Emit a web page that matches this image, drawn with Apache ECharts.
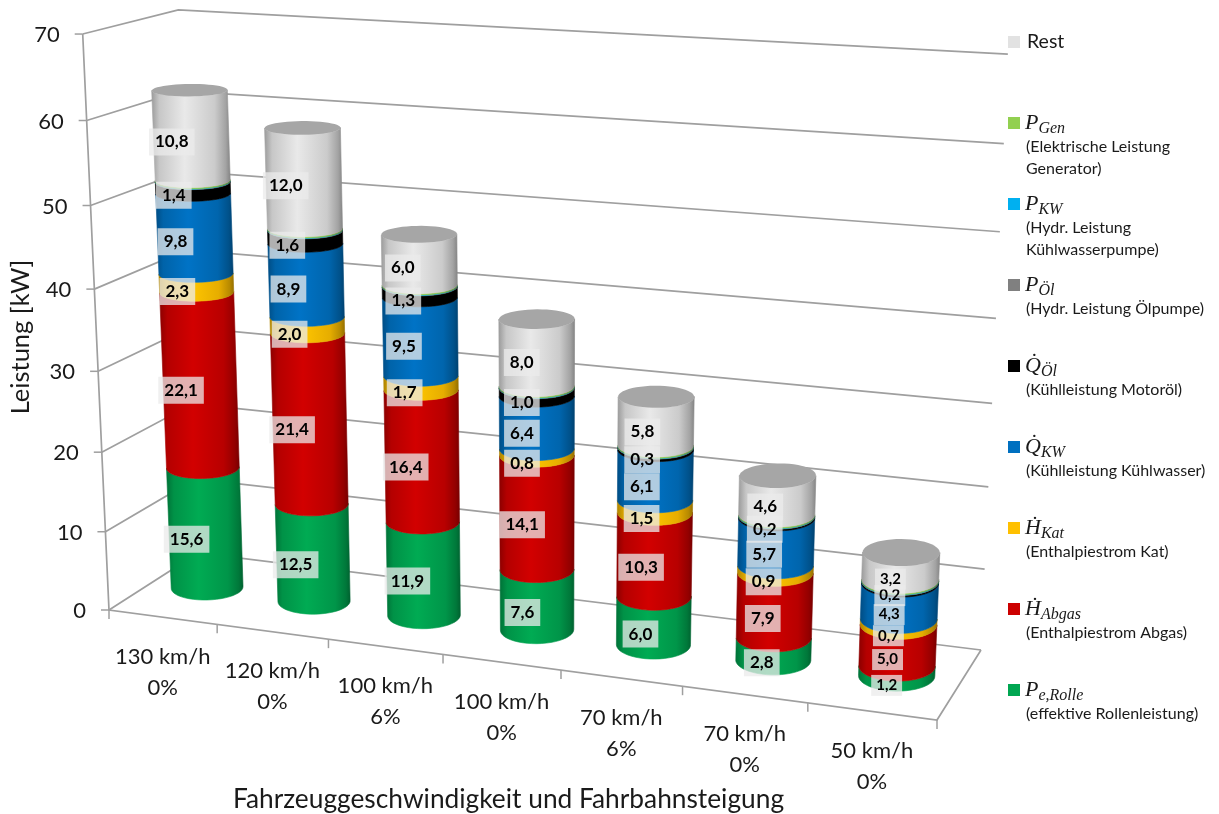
<!DOCTYPE html>
<html><head><meta charset="utf-8">
<style>html,body{margin:0;padding:0;background:#fff}#c{width:1219px;height:814px}</style>
<script src="https://cdn.jsdelivr.net/npm/echarts@6/dist/echarts.min.js"></script>
</head><body><div id="c"></div>
<script>
// ---- data ----
const categories = ['130 km/h\n0%','120 km/h\n0%','100 km/h\n6%','100 km/h\n0%','70 km/h\n6%','70 km/h\n0%','50 km/h\n0%'];
const yTicks = [0,10,20,30,40,50,60,70];
const pRolle  = [15.6,12.5,11.9,7.6,6.0,2.8,1.2];
const hAbgas  = [22.1,21.4,16.4,14.1,10.3,7.9,5.0];
const hKat    = [2.3,2.0,1.7,0.8,1.5,0.9,0.7];
const qKw     = [9.8,8.9,9.5,6.4,6.1,5.7,4.3];
const qOel    = [1.4,1.6,1.3,1.0,0.3,0.2,0.2];
const pOel    = [0.05,0.05,0.05,0.05,0.05,0.05,0.05];
const pKw     = [0.05,0.05,0.05,0.05,0.05,0.05,0.05];
const pGen    = [0.15,0.15,0.15,0.15,0.15,0.15,0.15];
const rest    = [10.8,12.0,6.0,8.0,5.8,4.6,3.2];
const legendOrder = ['Rest','PGen','PKW','PÖl','QÖl','QKW','HKat','HAbgas','PRolle'];

// ---- chart frame calibration: a perspective view of a floor and two walls ----
const FL=[109,610],FR=[937,720],BR=[981,650],BL=[198,553];
const TOPS=[{u:0,d:0,p:[84,37]},{u:0,d:1,p:[177,9]},{u:1,d:1,p:[1008,52]}];
const det=(a,b)=>a[0]*b[1]-a[1]*b[0];
const dx1=[FR[0]-BR[0],FR[1]-BR[1]],dx2=[BL[0]-BR[0],BL[1]-BR[1]];
const sv=[FL[0]-FR[0]+BR[0]-BL[0],FL[1]-FR[1]+BR[1]-BL[1]];
const D=det(dx1,dx2),pg=det(sv,dx2)/D,pj=det(dx1,sv)/D;
const pa=FR[0]-FL[0]+pg*FR[0],pb=BL[0]-FL[0]+pj*BL[0];
const pe=FR[1]-FL[1]+pg*FR[1],pf=BL[1]-FL[1]+pj*BL[1];
const pc=(()=>{
  let sX=0,sY=0,sQ=0,sRx=0,sRy=0,sM=0,n=TOPS.length;
  TOPS.forEach(t=>{
    const W=pg*t.u+pj*t.d+1,Xb=pa*t.u+pb*t.d+FL[0],Yb=pe*t.u+pf*t.d+FL[1];
    const X=t.p[0],Y=t.p[1],rx=X*W-Xb,ry=Y*W-Yb;
    sX+=X;sY+=Y;sQ+=X*X+Y*Y;sRx+=rx;sRy+=ry;sM+=X*rx+Y*ry;
  });
  const k=(-sM+sX*sRx/n+sY*sRy/n)/(sQ-sX*sX/n-sY*sY/n);
  return {c:(sRx+k*sX)/n,m:(sRy+k*sY)/n,k};
})();
function proj(u,d,h){
  const w=pg*u+pj*d+pc.k*h+1;
  return [(pa*u+pb*d+pc.c*h+FL[0])/w,(pe*u+pf*d+pc.m*h+FL[1])/w];
}
const D0=0.5,RU=0.042,RD=0.21,N=48,TILT=0.7;
function norm(params,pt){
  const s=params.coordSys;
  return [(pt[0]-s.x)/s.width,(s.y+s.height-pt[1])/s.height];
}
function ring(u,h){
  const a=[];
  for(let i=0;i<N;i++){const t=i/N*2*Math.PI;a.push(proj(u+RU*Math.cos(t),D0+RD*Math.sin(t),h));}
  let l=a[0],r=a[0];
  a.forEach(p=>{if(p[0]<l[0])l=p;if(p[0]>r[0])r=p;});
  const slope=(r[1]-l[1])/(r[0]-l[0]),cx=(l[0]+r[0])/2;
  return a.map(p=>[p[0],p[1]-TILT*slope*(p[0]-cx)]);
}
function frontChain(r){
  let l=0,rr=0;
  r.forEach((p,i)=>{if(p[0]<r[l][0])l=i;if(p[0]>r[rr][0])rr=i;});
  const out=[];let i=l;
  while(true){out.push(r[i]);if(i===rr)break;i=(i+1)%N;}
  return out;
}
function mul(hex,f){
  const n=parseInt(hex.slice(1),16);
  const c=[n>>16,(n>>8)&255,n&255].map(v=>Math.min(255,Math.round(v*f)));
  return 'rgb('+c.join(',')+')';
}
function shade(col){
  return {type:'linear',x:0,y:0,x2:1,y2:0,colorStops:[
    {offset:0,color:mul(col,0.68)},{offset:0.1,color:mul(col,0.88)},{offset:0.42,color:mul(col,1.03)},
    {offset:0.8,color:mul(col,0.9)},{offset:0.94,color:mul(col,0.72)},{offset:1,color:mul(col,0.58)}]};
}
const fmt=v=>v.toFixed(1).replace('.',',');
const LABEL_FONT='Lato, "Noto Sans", sans-serif';
const MATH_FONT='"Liberation Serif", serif';

// ---- stack ----
const stackDef=[
 {name:'PRolle',vals:pRolle,color:'#00a651',label:true},
 {name:'HAbgas',vals:hAbgas,color:'#cc0000',label:true},
 {name:'HKat',vals:hKat,color:'#ffc000',label:true},
 {name:'QKW',vals:qKw,color:'#0070c0',label:true},
 {name:'QÖl',vals:qOel,color:'#000000',label:true},
 {name:'PÖl',vals:pOel,color:'#808080',label:false},
 {name:'PKW',vals:pKw,color:'#00b0f0',label:false},
 {name:'PGen',vals:pGen,color:'#92d050',label:false},
 {name:'Rest',vals:rest,color:'#e2e2e2',label:true,cap:true}
];
const running=categories.map(()=>0);
const stackSeries=stackDef.map(sd=>{
  const data=categories.map((c,i)=>{const b=running[i];running[i]+=sd.vals[i];return [i,b,running[i],sd.vals[i]];});
  return {
    type:'custom',name:sd.name,coordinateSystem:'cartesian2d',z:3,
    itemStyle:{color:sd.color},clip:false,silent:true,
    encode:{x:0,y:[1,2]},data,
    renderItem(params,api){
      const i=api.value(0);
      const lo=norm(params,api.coord([i,api.value(1)]));
      const hi=norm(params,api.coord([i,api.value(2)]));
      const mid=norm(params,api.coord([i,(api.value(1)+api.value(2))/2]));
      const u=lo[0];
      const topR=ring(u,hi[1]),botR=ring(u,lo[1]);
      const pts=frontChain(topR).concat(frontChain(botR).reverse());
      const fill=shade(sd.color);
      const kids=[{type:'polygon',shape:{points:pts},style:{fill,stroke:fill,lineWidth:0.6},z2:1}];
      if(sd.cap){
        kids.push({type:'polygon',shape:{points:topR},style:{fill:'#a6a6a6'},z2:2});
      }
      if(sd.label){
        const p=proj(u,D0-RD,mid[1]);
        const small=i===categories.length-1;
        kids.push({type:'text',z2:100,style:{
          text:fmt(api.value(3)),x:p[0],y:p[1],align:'center',verticalAlign:'middle',
          font:'bold '+(small?15:17)+'px '+LABEL_FONT,fill:'#000',
          backgroundColor:'rgba(235,235,235,0.75)',padding:small?[3,5]:[5,6]}});
      }
      return {type:'group',children:kids};
    }
  };
});

// ---- walls, floor and tick labels ----
const LINE='#9f9f9f';
const wallSeries={
  type:'custom',name:'walls',coordinateSystem:'cartesian2d',z:1,silent:true,clip:false,
  data:yTicks.map(v=>[0,v]),encode:{x:0,y:1},
  renderItem(params,api){
    const h=norm(params,api.coord([0,api.value(1)]))[1];
    const a=proj(0,0,h),b=proj(0,1,h),c=proj(1,1,h);
    const kids=[
      {type:'polyline',shape:{points:[a,b,c]},style:{stroke:LINE,lineWidth:1.7,fill:null}},
      {type:'line',shape:{x1:a[0]-8,y1:a[1],x2:a[0],y2:a[1]},style:{stroke:LINE,lineWidth:1.5}},
      {type:'text',style:{text:String(api.value(1)),x:a[0]-23,y:a[1]+1,align:'right',verticalAlign:'middle',
        font:'22px '+LABEL_FONT,fill:'#1a1a1a'}}
    ];
    if(params.dataIndex===0){
      const top=proj(0,0,1),fr=proj(1,0,0),br=proj(1,1,0);
      kids.push({type:'polyline',shape:{points:[top,a,fr,br]},style:{stroke:LINE,lineWidth:1.7,fill:null}});
    }
    return {type:'group',children:kids};
  }
};
const catSeries={
  type:'custom',name:'cats',coordinateSystem:'cartesian2d',z:1,silent:true,clip:false,
  data:categories.map((c,i)=>[i,0]),encode:{x:0,y:1},
  renderItem(params,api){
    const i=api.value(0);
    const c=norm(params,api.coord([i,0]));
    const half=api.size([1,0])[0]/params.coordSys.width/2;
    const l=proj(c[0]-half,0,0),m=proj(c[0],0,0);
    const kids=[
      {type:'line',shape:{x1:l[0],y1:l[1],x2:l[0],y2:l[1]+9},style:{stroke:LINE,lineWidth:1.5}},
      {type:'text',style:{text:categories[i],x:m[0],y:m[1]+55,align:'center',verticalAlign:'middle',
        font:'22px '+LABEL_FONT,fill:'#1a1a1a',lineHeight:31}}
    ];
    if(i===categories.length-1){
      const r=proj(c[0]+half,0,0);
      kids.push({type:'line',shape:{x1:r[0],y1:r[1],x2:r[0],y2:r[1]+9},style:{stroke:LINE,lineWidth:1.5}});
    }
    return {type:'group',children:kids};
  }
};

// ---- legend text ----
const legendText={
  Rest:['{r|Rest}'],
  PGen:['{m|P}{s|Gen}','(Elektrische Leistung','Generator)'],
  PKW:['{m|P}{s|KW}','(Hydr. Leistung','Kühlwasserpumpe)'],
  'PÖl':['{m|P}{s|Öl}','(Hydr. Leistung Ölpumpe)'],
  'QÖl':['{m|Q\u0307}{s|Öl}','(Kühlleistung Motoröl)'],
  QKW:['{m|Q\u0307}{s|KW}','(Kühlleistung Kühlwasser)'],
  HKat:['{m|H\u0307}{s|Kat}','(Enthalpiestrom Kat)'],
  HAbgas:['{m|H\u0307}{s|Abgas}','(Enthalpiestrom Abgas)'],
  PRolle:['{m|P}{s|e,Rolle}','(effektive Rollenleistung)']
};
function legendFmt(name){
  const t=legendText[name];
  const d1=t[1]?'{d|'+t[1]+'}':'{d| }';
  const d2=t[2]?'{d|'+t[2]+'}':'{d| }';
  return '{f| }\n'+t[0]+'\n'+d1+'\n'+d2;
}

const chart=echarts.init(document.getElementById('c'),null,{renderer:'canvas'});
chart.setOption({
  animation:false,
  backgroundColor:'#fff',
  grid:{left:100,top:196,width:814,height:290},
  xAxis:{type:'category',data:categories,
    axisLine:{show:false},axisTick:{show:false},axisLabel:{show:false},splitLine:{show:false},
    name:'Fahrzeuggeschwindigkeit und Fahrbahnsteigung',nameLocation:'middle',nameGap:309,
    nameTextStyle:{fontFamily:'Lato',fontSize:26.3,color:'#1a1a1a'}},
  yAxis:{type:'value',min:0,max:70,interval:10,
    axisLine:{show:false},axisTick:{show:false},axisLabel:{show:false},splitLine:{show:false},
    name:'Leistung [kW]',nameLocation:'middle',nameGap:69,
    nameTextStyle:{fontFamily:'Lato',fontSize:25.5,color:'#1a1a1a'}},
  legend:{
    data:legendOrder,orient:'vertical',left:1008,top:-13,padding:0,itemGap:-31,
    itemWidth:12,itemHeight:12,icon:'rect',selectedMode:false,
    formatter:legendFmt,
    textStyle:{rich:{
      f:{height:44,lineHeight:44,fontSize:10},
      r:{fontFamily:'Lato',fontSize:19.5,height:22,lineHeight:22,padding:[0,0,0,2],color:'#1a1a1a'},
      m:{fontFamily:MATH_FONT,fontStyle:'italic',fontSize:22,height:22,lineHeight:22,color:'#1a1a1a'},
      s:{fontFamily:MATH_FONT,fontStyle:'italic',fontSize:16,height:16,lineHeight:16,verticalAlign:'top',padding:[9,0,0,0],color:'#1a1a1a'},
      d:{fontFamily:'Lato',fontSize:16,height:22,lineHeight:22,padding:[4,0,0,1],color:'#1a1a1a'}
    }}
  },
  series:[wallSeries,catSeries].concat(stackSeries)
});
</script></body></html>
